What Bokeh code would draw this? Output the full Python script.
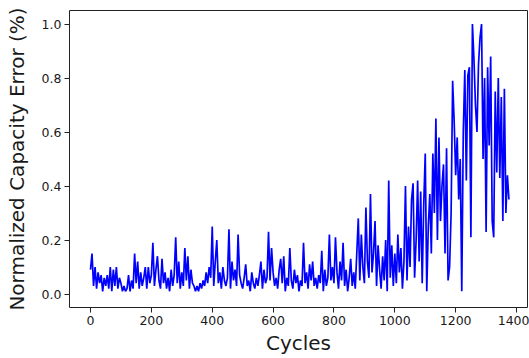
from bokeh.plotting import figure
from bokeh.models import FixedTicker, PrintfTickFormatter, Range1d, ColumnDataSource
from bokeh.embed import file_html
from bokeh.resources import INLINE

# Cycle numbers (every 5th cycle) and normalized capacity error
cycles = list(range(0, 1376, 5))
error = [
    0.09, 0.15, 0.03, 0.10, 0.02, 0.08, 0.04, 0.07, 0.01, 0.06,   # 0-45
    0.03, 0.07, 0.02, 0.10, 0.01, 0.09, 0.03, 0.10, 0.02, 0.06,   # 50-95
    0.04, 0.01, 0.03, 0.01, 0.02, 0.07, 0.01, 0.05, 0.02, 0.15,   # 100-145
    0.04, 0.12, 0.02, 0.08, 0.03, 0.06, 0.10, 0.02, 0.10, 0.04,   # 150-195
    0.07, 0.19, 0.03, 0.09, 0.14, 0.05, 0.02, 0.13, 0.04, 0.08,   # 200-245
    0.02, 0.06, 0.01, 0.09, 0.03, 0.07, 0.21, 0.04, 0.12, 0.02,   # 250-295
    0.08, 0.03, 0.17, 0.05, 0.14, 0.02, 0.09, 0.04, 0.03, 0.01,   # 300-345
    0.03, 0.01, 0.04, 0.02, 0.05, 0.03, 0.08, 0.04, 0.10, 0.06,   # 350-395
    0.25, 0.03, 0.12, 0.20, 0.04, 0.08, 0.02, 0.10, 0.05, 0.03,   # 400-445
    0.06, 0.24, 0.02, 0.12, 0.05, 0.09, 0.03, 0.22, 0.07, 0.04,   # 450-495
    0.02, 0.06, 0.11, 0.03, 0.05, 0.01, 0.08, 0.04, 0.02, 0.06,   # 500-545
    0.03, 0.07, 0.12, 0.02, 0.09, 0.04, 0.06, 0.23, 0.05, 0.17,   # 550-595
    0.08, 0.03, 0.06, 0.02, 0.09, 0.13, 0.04, 0.14, 0.01, 0.06,   # 600-645
    0.03, 0.17, 0.05, 0.02, 0.09, 0.04, 0.07, 0.01, 0.05, 0.03,   # 650-695
    0.19, 0.04, 0.08, 0.02, 0.11, 0.05, 0.12, 0.03, 0.06, 0.02,   # 700-745
    0.07, 0.04, 0.16, 0.01, 0.09, 0.03, 0.06, 0.22, 0.05, 0.10,   # 750-795
    0.04, 0.21, 0.08, 0.02, 0.12, 0.05, 0.19, 0.03, 0.09, 0.01,   # 800-845
    0.06, 0.13, 0.03, 0.08, 0.02, 0.15, 0.28, 0.05, 0.22, 0.10,   # 850-895
    0.04, 0.32, 0.12, 0.06, 0.37, 0.08, 0.15, 0.27, 0.03, 0.18,   # 900-945
    0.09, 0.02, 0.14, 0.05, 0.20, 0.01, 0.42, 0.06, 0.18, 0.03,   # 950-995
    0.15, 0.04, 0.22, 0.08, 0.17, 0.02, 0.12, 0.40, 0.05, 0.25,   # 1000-1045
    0.10, 0.35, 0.41, 0.06, 0.20, 0.42, 0.12, 0.38, 0.04, 0.33,   # 1050-1095
    0.52, 0.01, 0.25, 0.37, 0.15, 0.52, 0.30, 0.65, 0.20, 0.58,   # 1100-1145
    0.27, 0.40, 0.48, 0.15, 0.54, 0.05, 0.10, 0.30, 0.79, 0.64,   # 1150-1195
    0.44, 0.58, 0.35, 0.50, 0.01, 0.60, 0.83, 0.42, 0.81, 0.84,   # 1200-1245
    0.21, 1.00, 0.87, 0.70, 0.60, 0.85, 0.95, 1.00, 0.50, 0.80,   # 1250-1295
    0.23, 0.84, 0.55, 0.88, 0.27, 0.21, 0.75, 0.45, 0.80, 0.43,   # 1300-1345
    0.73, 0.27, 0.76, 0.30, 0.44, 0.35,                           # 1350-1375
]
x_ticks = [0, 200, 400, 600, 800, 1000, 1200, 1400]
y_ticks = [0.0, 0.2, 0.4, 0.6, 0.8, 1.0]

src = ColumnDataSource(data=dict(cycles=cycles, error=error))

p = figure(width=529, height=358, output_backend="svg", toolbar_location=None,
           x_range=Range1d(-69, 1436), y_range=Range1d(-0.05, 1.05),
           min_border_left=69, min_border_right=2, min_border_top=10, min_border_bottom=51)
p.line("cycles", "error", source=src, line_color="#0000ff", line_width=1.7)

p.grid.visible = False
p.outline_line_color = "#222222"
p.outline_line_width = 1
p.background_fill_color = "white"
p.border_fill_color = "white"

for ax in (p.xaxis[0], p.yaxis[0]):
    ax.axis_line_color = None
    ax.major_tick_line_color = "#222222"
    ax.major_tick_in = 0
    ax.major_tick_out = 5
    ax.minor_tick_line_color = None
    ax.major_label_text_font = "DejaVu Sans"
    ax.major_label_text_font_size = "12.5px"
    ax.major_label_text_color = "#1a1a1a"
    ax.axis_label_text_font = "DejaVu Sans"
    ax.axis_label_text_font_size = "20px"
    ax.axis_label_text_font_style = "normal"
    ax.axis_label_text_color = "#1a1a1a"
    ax.major_label_standoff = 3

p.xaxis.ticker = FixedTicker(ticks=x_ticks)
p.yaxis.ticker = FixedTicker(ticks=y_ticks)
p.yaxis.formatter = PrintfTickFormatter(format="%.1f")
p.xaxis.axis_label = "Cycles"
p.yaxis.axis_label = "Normalized Capacity Error (%)"
p.xaxis.axis_label_standoff = 3
p.yaxis.axis_label_standoff = 10

open("out.html", "w").write(file_html(p, INLINE))
